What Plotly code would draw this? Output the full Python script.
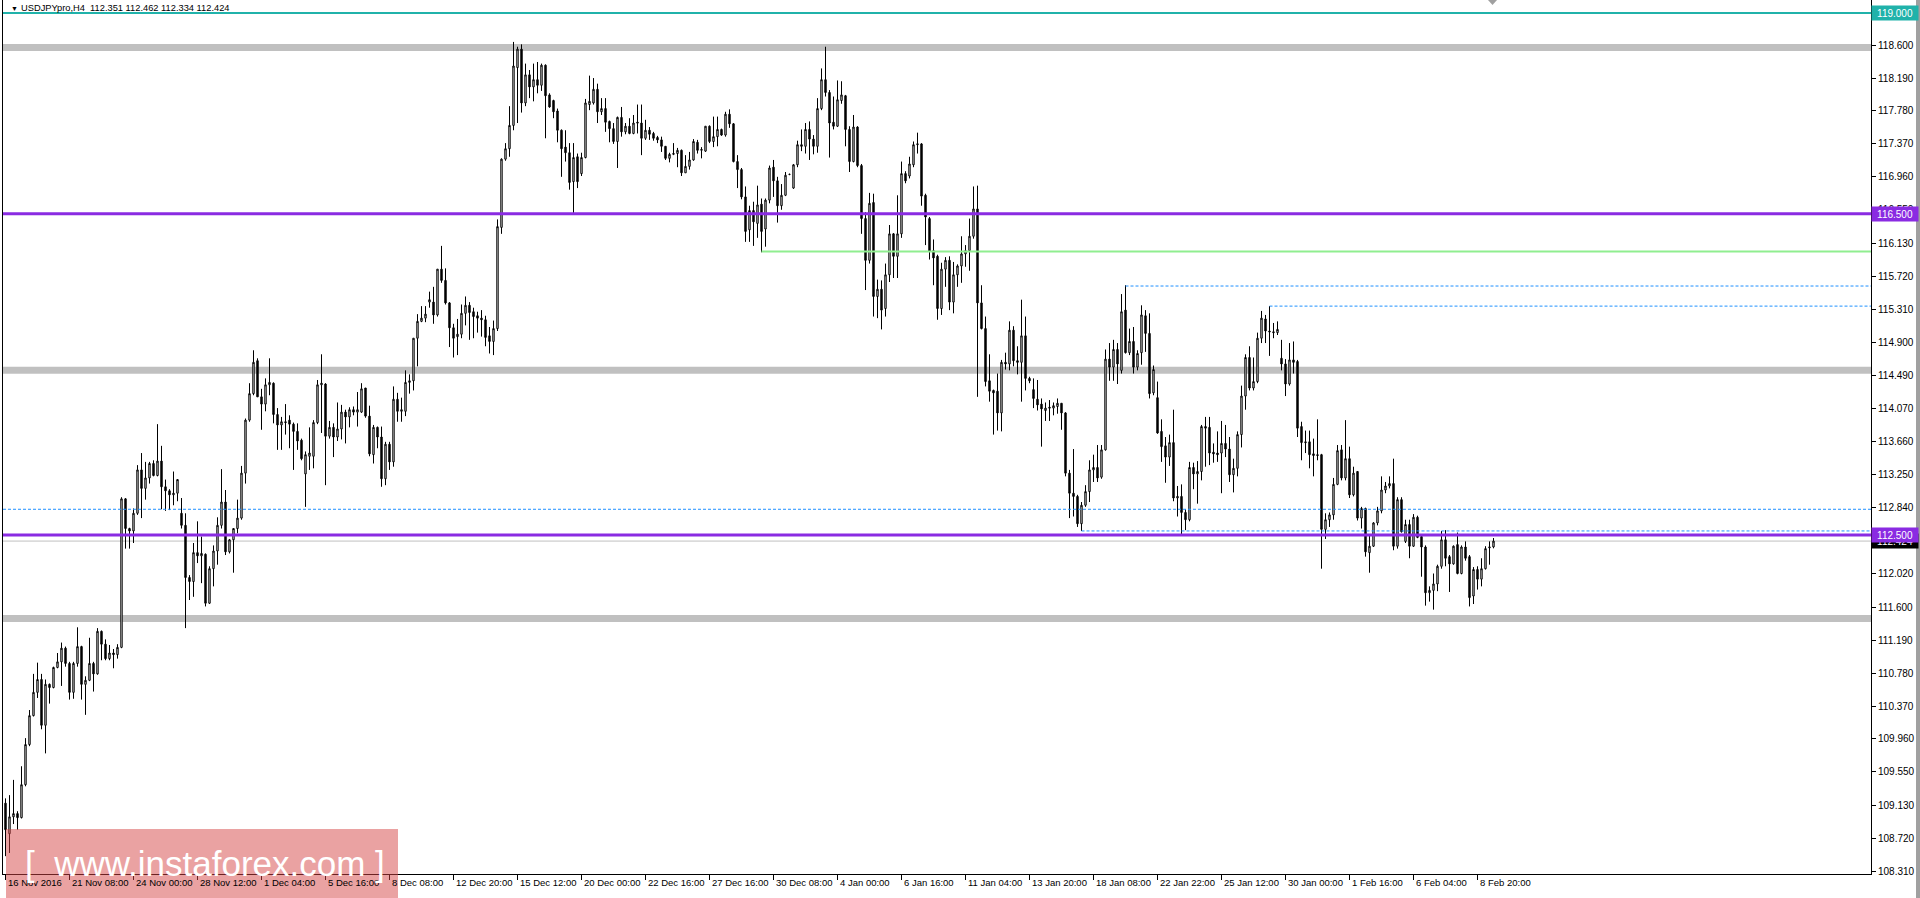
import plotly.graph_objects as go

symbol = "USDJPYpro,H4"

opens = [
    109.16, 108.78, 108.99, 109.03, 108.98, 109.39, 109.89, 110.25, 110.54, 110.70,
    110.13, 110.64, 110.60, 110.85, 110.92, 111.09, 110.90, 110.54, 110.90, 111.11,
    110.64, 110.69, 110.90, 110.77, 111.30, 111.14, 110.96, 111.03, 111.01, 111.10,
    112.95, 112.58, 112.55, 112.77, 113.31, 113.08, 113.21, 113.39, 113.24, 113.42,
    113.10, 113.05, 113.00, 113.02, 112.77, 112.62, 111.97, 111.92, 112.28, 112.24,
    112.26, 111.65, 112.08, 112.30, 112.62, 112.91, 112.29, 112.44, 112.58, 112.71,
    113.27, 113.93, 114.26, 114.67, 114.22, 114.13, 114.37, 114.39, 114.00, 113.87,
    113.91, 113.93, 113.88, 113.79, 113.68, 113.26, 113.48, 113.48, 113.90, 114.37,
    114.38, 113.73, 113.84, 113.72, 113.82, 114.03, 113.97, 114.06, 114.03, 114.03,
    114.33, 113.98, 113.50, 113.84, 113.72, 113.20, 113.63, 113.41, 114.19, 114.04,
    114.04, 114.40, 114.42, 114.95, 115.16, 115.20, 115.40, 115.40, 115.24, 115.81,
    115.67, 115.39, 115.08, 114.97, 115.00, 115.26, 115.36, 115.28, 115.23, 115.20,
    115.18, 114.98, 114.91, 115.07, 116.33, 117.18, 117.31, 117.60, 118.32, 118.55,
    117.88, 118.23, 118.08, 118.17, 118.10, 118.35, 117.98, 117.91, 117.78, 117.54,
    117.33, 117.26, 116.90, 117.21, 117.00, 117.20, 117.86, 117.88, 118.05, 117.77,
    117.81, 117.65, 117.56, 117.40, 117.70, 117.52, 117.59, 117.50, 117.64, 117.63,
    117.44, 117.54, 117.50, 117.45, 117.42, 117.34, 117.19, 117.24, 117.25, 117.29,
    117.01, 117.09, 117.17, 117.39, 117.29, 117.28, 117.59, 117.40, 117.46, 117.55,
    117.48, 117.74, 117.62, 117.15, 117.05, 116.71, 116.30, 116.54, 116.38, 116.62,
    116.31, 116.67, 117.08, 116.91, 116.60, 116.73, 116.99, 116.82, 117.11, 117.36,
    117.34, 117.55, 117.43, 117.34, 117.81, 118.17, 118.01, 117.64, 117.59, 117.91,
    117.97, 117.55, 117.15, 117.58, 117.10, 116.44, 115.92, 116.64, 115.47, 115.56,
    115.32, 115.74, 116.25, 115.97, 116.25, 117.00, 116.97, 117.11, 117.36, 117.37,
    116.73, 116.44, 116.04, 115.97, 115.32, 115.81, 115.92, 115.40, 115.74, 115.85,
    116.00, 116.04, 116.22, 116.56, 115.39, 115.07, 114.42, 114.30, 114.29, 114.02,
    114.65, 114.63, 115.05, 114.67, 114.65, 114.98, 114.45, 114.31, 114.19, 114.13,
    114.05, 114.09, 114.08, 114.10, 114.14, 114.02, 113.27, 113.02, 112.98, 112.64,
    112.87, 113.04, 113.31, 113.34, 113.22, 113.56, 114.69, 114.59, 114.81, 114.55,
    115.30, 114.77, 114.91, 114.59, 114.77, 115.23, 115.01, 114.27, 114.21, 113.79,
    113.61, 113.47, 113.65, 112.96, 112.98, 112.78, 112.69, 113.34, 113.26, 113.29,
    113.85, 113.84, 113.53, 113.52, 113.52, 113.64, 113.57, 113.25, 113.33, 113.75,
    114.23, 114.71, 114.33, 114.41, 114.95, 115.19, 115.04, 115.03, 115.02, 114.70,
    114.63, 114.38, 114.68, 114.66, 113.85, 113.66, 113.66, 113.51, 113.50, 113.50,
    112.57, 112.69, 112.75, 113.13, 113.56, 113.21, 113.45, 113.00, 113.29, 112.71,
    112.83, 112.28, 112.36, 112.65, 112.80, 113.06, 113.11, 113.14, 112.36, 112.94,
    112.42, 112.63, 112.36, 112.72, 112.48, 112.35, 111.78, 111.81, 111.89, 112.11,
    112.44, 112.23, 112.14, 112.38, 112.02, 112.35, 112.23, 111.74, 112.07, 111.95,
    112.08, 112.34, 112.351,
]

highs = [
    109.22, 109.26, 109.45, 109.06, 109.62, 109.97, 110.32, 110.77, 110.91, 110.77,
    110.70, 110.65, 110.86, 111.03, 111.16, 111.11, 110.92, 110.92, 111.35, 111.12,
    110.74, 111.22, 110.92, 111.34, 111.31, 111.20, 111.13, 111.08, 111.14, 112.97,
    112.96, 112.59, 112.83, 113.37, 113.52, 113.41, 113.41, 113.43, 113.88, 113.61,
    113.19, 113.07, 113.29, 113.19, 112.96, 112.77, 112.00, 112.40, 112.67, 112.48,
    112.27, 112.11, 112.37, 112.72, 113.32, 113.06, 112.45, 112.58, 112.94, 113.36,
    113.95, 114.39, 114.80, 114.70, 114.32, 114.45, 114.70, 114.40, 114.08, 113.97,
    114.13, 113.99, 113.90, 113.89, 113.70, 113.54, 113.84, 113.93, 114.43, 114.75,
    114.39, 113.92, 113.89, 114.15, 114.12, 114.06, 114.09, 114.10, 114.28, 114.39,
    114.33, 114.11, 113.87, 113.85, 113.85, 113.66, 113.66, 114.35, 114.27, 114.21,
    114.55, 114.50, 114.95, 115.25, 115.35, 115.35, 115.53, 115.59, 115.81, 116.10,
    115.82, 115.40, 115.13, 115.19, 115.37, 115.47, 115.40, 115.33, 115.28, 115.30,
    115.23, 115.09, 115.17, 116.43, 117.19, 117.38, 117.84, 118.64, 118.58, 118.61,
    118.37, 118.29, 118.37, 118.39, 118.37, 118.36, 118.00, 117.92, 117.81, 117.55,
    117.54, 117.38, 117.38, 117.25, 117.26, 117.93, 118.22, 118.19, 118.12, 117.94,
    117.94, 117.66, 117.63, 117.71, 117.83, 117.63, 117.69, 117.73, 117.86, 117.86,
    117.67, 117.58, 117.52, 117.47, 117.46, 117.34, 117.26, 117.38, 117.32, 117.30,
    117.23, 117.27, 117.43, 117.42, 117.33, 117.59, 117.60, 117.71, 117.71, 117.56,
    117.77, 117.80, 117.63, 117.23, 117.07, 116.84, 116.60, 116.65, 116.85, 116.69,
    116.69, 117.10, 117.17, 116.96, 116.87, 117.02, 117.00, 117.12, 117.41, 117.55,
    117.63, 117.65, 117.48, 117.94, 118.31, 118.58, 118.04, 117.96, 118.16, 118.15,
    117.98, 117.59, 117.73, 117.59, 117.12, 116.52, 116.76, 116.75, 115.68, 115.67,
    115.88, 116.36, 116.26, 116.73, 117.15, 117.03, 117.21, 117.40, 117.51, 117.38,
    116.75, 116.46, 116.18, 115.99, 115.89, 115.96, 115.97, 115.90, 115.87, 116.22,
    116.11, 116.44, 116.84, 116.85, 115.61, 115.22, 114.75, 114.31, 114.51, 114.68,
    114.77, 115.16, 115.10, 114.85, 115.43, 115.22, 114.47, 114.45, 114.43, 114.20,
    114.15, 114.18, 114.15, 114.20, 114.14, 114.03, 113.31, 113.57, 113.00, 112.91,
    113.12, 113.43, 113.50, 113.62, 113.62, 114.81, 114.89, 114.93, 114.89, 115.50,
    115.61, 115.07, 115.09, 114.80, 115.36, 115.30, 115.26, 114.61, 114.41, 113.94,
    113.72, 113.75, 114.06, 113.11, 113.13, 112.82, 113.41, 113.40, 113.42, 113.87,
    113.97, 113.97, 113.64, 113.79, 113.92, 113.87, 113.72, 113.45, 113.79, 114.36,
    114.75, 114.85, 114.71, 115.02, 115.29, 115.24, 115.35, 115.14, 115.16, 114.93,
    114.69, 114.89, 114.91, 114.68, 113.91, 113.80, 113.80, 113.70, 113.94, 113.51,
    112.77, 112.78, 113.21, 113.62, 113.62, 113.93, 113.60, 113.35, 113.29, 112.85,
    112.84, 112.51, 112.66, 112.85, 113.23, 113.16, 113.23, 113.45, 112.97, 112.97,
    112.69, 112.69, 112.76, 112.74, 112.50, 112.37, 111.86, 112.02, 112.13, 112.55,
    112.56, 112.25, 112.37, 112.53, 112.37, 112.42, 112.25, 112.10, 112.11, 112.21,
    112.36, 112.42, 112.462,
]

lows = [
    108.50, 108.54, 108.90, 108.83, 108.97, 109.37, 109.87, 110.24, 110.47, 110.08,
    109.78, 110.40, 110.59, 110.84, 110.62, 110.86, 110.45, 110.46, 110.86, 110.45,
    110.26, 110.68, 110.55, 110.76, 110.94, 110.94, 110.94, 110.84, 110.96, 111.09,
    112.33, 112.33, 112.40, 112.75, 112.71, 112.94, 113.14, 113.23, 113.23, 112.82,
    112.80, 112.81, 112.87, 112.92, 112.58, 111.34, 111.69, 111.73, 112.15, 111.90,
    111.61, 111.64, 111.86, 112.13, 112.58, 112.25, 112.27, 112.03, 112.52, 112.69,
    113.14, 113.91, 114.24, 114.22, 113.81, 114.04, 114.24, 113.89, 113.56, 113.56,
    113.75, 113.58, 113.31, 113.56, 113.43, 112.85, 113.31, 113.33, 113.88, 113.77,
    113.12, 113.70, 113.47, 113.67, 113.69, 113.64, 113.84, 113.99, 113.85, 114.02,
    113.96, 113.48, 113.39, 113.58, 113.10, 113.12, 113.31, 113.35, 113.91, 113.91,
    113.98, 114.26, 114.30, 114.60, 115.15, 115.15, 115.33, 115.13, 115.22, 115.64,
    115.37, 114.84, 114.71, 114.74, 114.95, 115.11, 114.93, 114.95, 115.02, 114.97,
    114.85, 114.76, 114.74, 115.04, 116.25, 117.16, 117.21, 117.54, 117.63, 117.76,
    117.84, 117.94, 117.90, 118.00, 118.03, 117.44, 117.82, 117.69, 117.39, 116.96,
    117.15, 116.80, 116.51, 116.82, 116.97, 117.19, 117.79, 117.86, 117.63, 117.73,
    117.52, 117.39, 117.37, 117.07, 117.46, 117.49, 117.49, 117.49, 117.50, 117.23,
    117.42, 117.42, 117.41, 117.38, 117.27, 117.17, 117.14, 117.23, 117.08, 116.97,
    117.01, 117.05, 117.16, 117.25, 117.19, 117.27, 117.38, 117.33, 117.34, 117.47,
    117.46, 117.57, 117.14, 116.82, 116.68, 116.15, 116.15, 116.10, 116.20, 116.02,
    116.09, 116.63, 116.71, 116.39, 116.55, 116.72, 116.98, 116.81, 117.08, 117.28,
    117.25, 117.17, 117.24, 117.26, 117.79, 117.96, 117.20, 117.55, 117.58, 117.87,
    117.34, 117.02, 117.14, 117.08, 116.25, 115.55, 115.88, 115.22, 115.20, 115.06,
    115.22, 115.65, 115.70, 115.70, 116.20, 116.88, 116.94, 117.08, 117.25, 116.60,
    116.11, 115.93, 115.61, 115.18, 115.24, 115.59, 115.30, 115.26, 115.59, 115.64,
    115.84, 115.79, 116.19, 114.22, 115.06, 114.35, 114.16, 113.75, 113.80, 113.79,
    114.56, 114.55, 114.60, 114.50, 114.16, 114.30, 114.39, 114.08, 114.05, 113.60,
    113.92, 113.92, 113.99, 114.01, 113.81, 113.23, 112.71, 112.73, 112.60, 112.55,
    112.85, 112.91, 113.16, 113.16, 113.20, 113.55, 114.42, 114.42, 114.38, 114.51,
    114.76, 114.74, 114.51, 114.55, 114.62, 114.78, 114.20, 114.24, 113.76, 113.41,
    113.15, 113.36, 112.92, 112.73, 112.50, 112.56, 112.67, 113.07, 112.89, 113.18,
    113.35, 113.37, 113.40, 113.41, 113.02, 113.47, 113.16, 113.03, 113.23, 113.59,
    114.06, 114.30, 114.30, 114.39, 114.89, 114.89, 114.73, 114.95, 114.99, 114.55,
    114.23, 114.36, 114.51, 113.72, 113.43, 113.52, 113.33, 113.23, 113.43, 112.08,
    112.45, 112.60, 112.69, 113.12, 113.18, 113.18, 112.96, 112.98, 112.68, 112.58,
    112.23, 112.03, 112.35, 112.62, 112.77, 113.02, 113.08, 112.31, 112.33, 112.53,
    112.40, 112.21, 112.35, 112.46, 111.98, 111.62, 111.67, 111.57, 111.80, 112.08,
    112.11, 111.79, 112.13, 112.01, 112.01, 112.18, 111.61, 111.64, 111.82, 111.86,
    112.07, 112.13, 112.334,
]

closes = [
    108.83, 108.99, 109.03, 108.98, 109.39, 109.89, 110.25, 110.54, 110.70, 110.13,
    110.64, 110.60, 110.85, 110.92, 111.09, 110.90, 110.54, 110.90, 111.11, 110.64,
    110.69, 110.90, 110.77, 111.30, 111.14, 110.96, 111.03, 111.01, 111.10, 112.95,
    112.58, 112.55, 112.77, 113.31, 113.08, 113.21, 113.39, 113.24, 113.42, 113.10,
    113.05, 113.00, 113.02, 113.19, 112.62, 111.97, 111.92, 112.28, 112.24, 112.27,
    111.65, 112.08, 112.30, 112.62, 112.91, 112.29, 112.44, 112.58, 112.71, 113.27,
    113.93, 114.26, 114.65, 114.22, 114.13, 114.37, 114.40, 114.00, 113.87, 113.91,
    113.90, 113.88, 113.79, 113.67, 113.45, 113.50, 113.52, 113.90, 114.37, 114.39,
    113.73, 113.84, 113.72, 113.82, 114.03, 113.97, 114.06, 114.03, 114.06, 114.32,
    113.98, 113.51, 113.84, 113.72, 113.20, 113.63, 113.41, 114.19, 114.04, 114.06,
    114.40, 114.42, 114.95, 115.16, 115.20, 115.25, 115.43, 115.24, 115.81, 115.67,
    115.39, 115.08, 114.95, 115.00, 115.26, 115.36, 115.27, 115.22, 115.20, 115.18,
    114.96, 114.91, 115.07, 116.34, 117.18, 117.31, 117.60, 118.34, 118.55, 117.88,
    118.23, 118.08, 118.17, 118.10, 118.35, 117.97, 117.83, 117.77, 117.54, 117.31,
    117.26, 116.89, 117.20, 116.90, 117.20, 117.88, 117.90, 118.05, 117.77, 117.81,
    117.64, 117.56, 117.40, 117.70, 117.52, 117.59, 117.50, 117.63, 117.63, 117.44,
    117.54, 117.49, 117.44, 117.42, 117.34, 117.19, 117.24, 117.25, 117.29, 117.01,
    117.09, 117.17, 117.40, 117.29, 117.30, 117.59, 117.40, 117.46, 117.55, 117.48,
    117.74, 117.62, 117.15, 117.05, 116.71, 116.28, 116.54, 116.40, 116.61, 116.28,
    116.67, 117.07, 116.91, 116.60, 116.73, 116.98, 116.99, 117.11, 117.36, 117.34,
    117.55, 117.43, 117.34, 117.81, 118.17, 118.01, 117.63, 117.59, 117.92, 117.98,
    117.55, 117.15, 117.58, 117.10, 116.44, 115.92, 116.63, 115.47, 115.56, 115.30,
    115.74, 116.25, 115.97, 116.25, 117.00, 116.91, 117.12, 117.36, 117.37, 116.72,
    116.46, 116.03, 115.95, 115.32, 115.81, 115.92, 115.40, 115.74, 115.85, 116.00,
    116.04, 116.22, 116.56, 115.39, 115.07, 114.41, 114.29, 114.27, 114.02, 114.65,
    114.63, 115.05, 114.67, 114.65, 114.98, 114.45, 114.42, 114.20, 114.12, 114.07,
    114.08, 114.08, 114.11, 114.14, 114.02, 113.27, 113.02, 112.98, 112.64, 112.87,
    113.04, 113.31, 113.34, 113.21, 113.56, 114.69, 114.59, 114.81, 114.63, 115.28,
    114.77, 114.91, 114.59, 114.76, 115.24, 115.01, 114.26, 114.56, 113.77, 113.60,
    113.47, 113.65, 112.96, 112.98, 112.78, 112.69, 113.34, 113.26, 113.29, 113.85,
    113.83, 113.52, 113.51, 113.50, 113.64, 113.57, 113.25, 113.33, 113.75, 114.23,
    114.71, 114.33, 114.41, 114.95, 115.20, 115.04, 115.03, 115.02, 115.06, 114.63,
    114.38, 114.68, 114.65, 113.83, 113.65, 113.65, 113.50, 113.49, 113.49, 112.57,
    112.69, 112.75, 113.13, 113.55, 113.21, 113.45, 113.00, 113.27, 112.71, 112.83,
    112.29, 112.36, 112.65, 112.80, 113.06, 113.11, 113.14, 112.36, 112.94, 112.54,
    112.63, 112.36, 112.72, 112.47, 112.35, 111.78, 111.81, 111.89, 112.11, 112.44,
    112.21, 112.14, 112.36, 112.02, 112.35, 112.21, 111.72, 112.07, 111.95, 112.08,
    112.33, 112.35, 112.424,
]

time_labels = [
    "16 Nov 2016", "21 Nov 08:00", "24 Nov 00:00", "28 Nov 12:00", "1 Dec 04:00",
    "5 Dec 16:00", "8 Dec 08:00", "12 Dec 20:00", "15 Dec 12:00", "20 Dec 00:00",
    "22 Dec 16:00", "27 Dec 16:00", "30 Dec 08:00", "4 Jan 00:00", "6 Jan 16:00",
    "11 Jan 04:00", "13 Jan 20:00", "18 Jan 08:00", "22 Jan 22:00", "25 Jan 12:00",
    "30 Jan 00:00", "1 Feb 16:00", "6 Feb 04:00", "8 Feb 20:00",
]
time_label_bars = [0, 16, 32, 48, 64, 80, 96, 112, 128, 144, 160, 176, 192, 208,
                   224, 240, 256, 272, 288, 304, 320, 336, 352, 368]

price_ticks = [119.000, 118.600, 118.190, 117.780, 117.370, 116.960, 116.550,
               116.130, 115.720, 115.310, 114.900, 114.490, 114.070, 113.660,
               113.250, 112.840, 112.430, 112.020, 111.600, 111.190, 110.780,
               110.370, 109.960, 109.550, 109.130, 108.720, 108.310]

top_level = 119.000
grey_levels = [118.57, 114.55, 111.46]
purple_levels = [116.500, 112.500]
green_level = 116.03
green_start_bar = 189
dashed_levels = [115.60, 115.35, 112.82, 112.55]
dashed_start_bars = [280, 316, None, 269]

# ---------------- layout constants ----------------
W, H = 1920, 898
ML, MR, MT, MB = 3, 49, 0, 24
X_MIN, X_MAX = -0.625, 466.375
Y_MIN, Y_MAX = 108.278, 119.162
FONT = "Liberation Sans, Arial, sans-serif"
PW = W - ML - MR
PH = H - MT - MB


def px(x):
    return (x - ML) / PW


def py(y):
    return (H - MB - y) / PH


bar_index = list(range(len(closes)))

fig = go.Figure()
fig.add_trace(go.Candlestick(
    x=bar_index, open=opens, high=highs, low=lows, close=closes,
    increasing=dict(line=dict(color="black", width=1), fillcolor="white"),
    decreasing=dict(line=dict(color="black", width=1), fillcolor="black"),
    whiskerwidth=0, showlegend=False, hoverinfo="skip",
))

shapes = []
for lv in grey_levels:
    shapes.append(dict(type="line", xref="x", yref="y", x0=X_MIN, x1=X_MAX, y0=lv, y1=lv,
                       line=dict(color="#C0C0C0", width=7), layer="below"))
shapes.append(dict(type="line", xref="x", yref="y", x0=X_MIN, x1=X_MAX, y0=closes[-1], y1=closes[-1],
                   line=dict(color="#C0C0C0", width=1), layer="below"))
shapes.append(dict(type="line", xref="x", yref="y", x0=X_MIN, x1=X_MAX, y0=top_level, y1=top_level,
                   line=dict(color="#20B2AA", width=2), layer="above"))
shapes.append(dict(type="line", xref="x", yref="y", x0=green_start_bar, x1=X_MAX,
                   y0=green_level, y1=green_level,
                   line=dict(color="#90EE90", width=2), layer="above"))
for lv, sb in zip(dashed_levels, dashed_start_bars):
    shapes.append(dict(type="line", xref="x", yref="y", x0=X_MIN if sb is None else sb, x1=X_MAX,
                       y0=lv, y1=lv, line=dict(color="#1E90FF", width=1, dash="3px,2px"),
                       layer="above"))
for lv in purple_levels:
    shapes.append(dict(type="line", xref="x", yref="y", x0=X_MIN, x1=X_MAX, y0=lv, y1=lv,
                       line=dict(color="#8A2BE2", width=3), layer="above"))

# chart-shift marker at the top
shapes.append(dict(type="path", xref="paper", yref="paper",
                   path=f"M {px(1488)},{py(0)} L {px(1497)},{py(0)} L {px(1492.5)},{py(5)} Z",
                   fillcolor="#A0A0A0", line=dict(width=0), layer="above"))
# right window strip
shapes.append(dict(type="rect", xref="paper", yref="paper", x0=px(1916), x1=px(1921),
                   y0=py(898), y1=py(0), fillcolor="#A0A0A0", line=dict(width=0), layer="above"))
# watermark box
shapes.append(dict(type="rect", xref="paper", yref="paper", x0=px(6), x1=px(398),
                   y0=py(899), y1=py(829), fillcolor="rgba(214,70,70,0.5)",
                   line=dict(width=0), layer="above"))

annotations = []
# header
annotations.append(dict(xref="paper", yref="paper", x=px(9), y=py(3), xanchor="left", yanchor="top",
                        text="\u25bc", showarrow=False, font=dict(family=FONT, size=7, color="black")))
annotations.append(dict(xref="paper", yref="paper", x=px(19), y=py(1), xanchor="left", yanchor="top",
                        text=f"{symbol}\u00a0\u00a0{opens[-1]:.3f} {highs[-1]:.3f} {lows[-1]:.3f} {closes[-1]:.3f}",
                        showarrow=False, font=dict(family=FONT, size=9.3, color="black")))
# time labels
for b, t in zip(time_label_bars, time_labels):
    annotations.append(dict(xref="x", yref="paper", x=b, y=0, xanchor="left", yanchor="top",
                            xshift=0, yshift=-1, text=t, showarrow=False,
                            font=dict(family=FONT, size=9.5, color="black")))


def price_box(value, color):
    return dict(xref="paper", yref="y", x=1, y=value, xanchor="left", yanchor="middle",
                xshift=0, text=f"{value:.3f}", showarrow=False, bgcolor=color,
                width=44, height=12, borderpad=1, align="center",
                font=dict(family=FONT, size=10, color="white"))


annotations.append(price_box(top_level, "#20B2AA"))
annotations.append(price_box(purple_levels[0], "#8A2BE2"))
annotations.append(price_box(closes[-1], "black"))
annotations.append(price_box(purple_levels[1], "#8A2BE2"))
# watermark text
annotations.append(dict(xref="paper", yref="paper", x=px(205), y=py(863), xanchor="center",
                        yanchor="middle", text="[\u00a0 www.instaforex.com\u00a0]", showarrow=False,
                        font=dict(family=FONT, size=35, color="white")))

fig.update_layout(
    width=W, height=H, autosize=False,
    margin=dict(l=ML, r=MR, t=MT, b=MB, pad=0),
    paper_bgcolor="white", plot_bgcolor="white",
    showlegend=False, boxgap=0.5,
    shapes=shapes, annotations=annotations,
    xaxis=dict(range=[X_MIN, X_MAX], rangeslider=dict(visible=False), showgrid=False,
               zeroline=False, showline=True, linecolor="black", linewidth=1, mirror=True,
               tickmode="array", tickvals=time_label_bars, ticks="outside", ticklen=5,
               tickcolor="black", tickwidth=1, showticklabels=False, fixedrange=True),
    yaxis=dict(range=[Y_MIN, Y_MAX], side="right", showgrid=False, zeroline=False,
               showline=True, linecolor="black", linewidth=1, mirror=True,
               tickmode="array", tickvals=price_ticks,
               ticktext=[f"{v:.3f}" for v in price_ticks],
               ticks="outside", ticklen=4, tickcolor="black", tickwidth=1,
               tickfont=dict(family=FONT, size=10, color="black"), fixedrange=True),
)

fig.write_html("out.html", config={"displayModeBar": False},
               post_script="document.body.style.margin='0';document.body.style.overflow='hidden';")
